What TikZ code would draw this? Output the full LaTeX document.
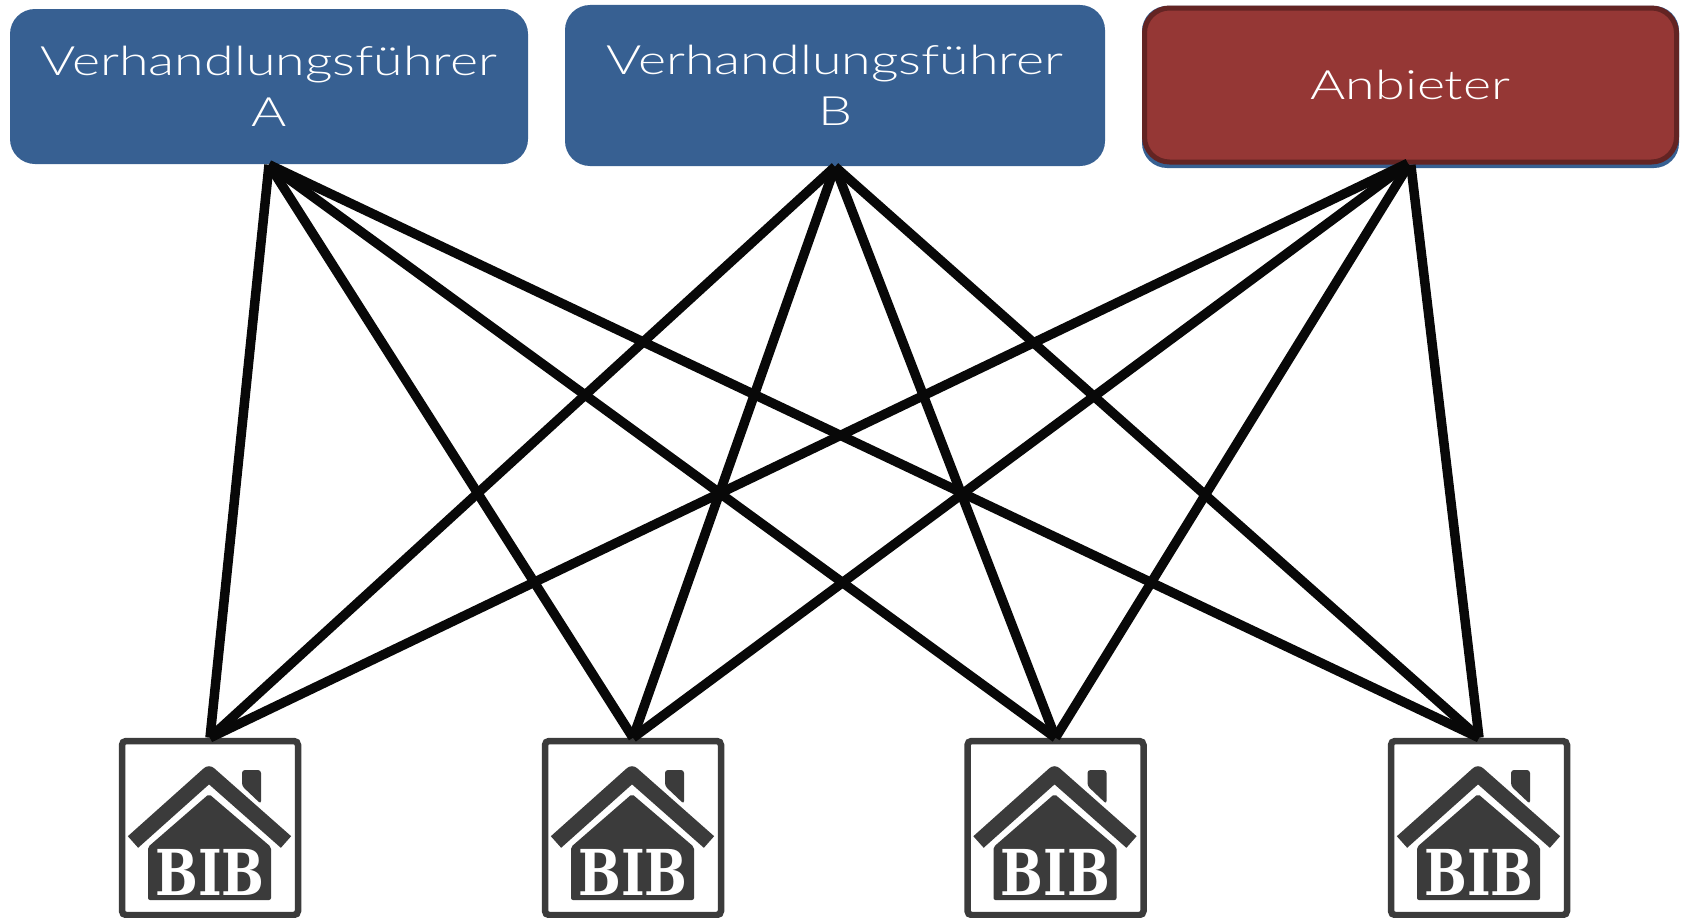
\documentclass[tikz,border=0pt]{standalone}
\usepackage{fontspec}
\setmainfont{Lato}[UprightFont=* Light,FakeStretch=1.33]
\newfontfamily\bibfont{DejaVu Serif}[UprightFont=* Bold,FakeStretch=0.8]
\usepackage{xcolor}
\definecolor{partyblue}{HTML}{376092}
\definecolor{partyred}{HTML}{953735}
\definecolor{partyredline}{HTML}{632423}
\definecolor{housegrey}{HTML}{3B3B3B}
\usetikzlibrary{positioning}
\tikzset{
    party/.style = {rounded corners=0.25cm,inner sep=0,text=white,align=center,
        font=\fontsize{11.5}{14.5}\selectfont},
    bluebox/.style = {party,fill=partyblue,minimum height=1.55cm},
    redbox/.style = {party,fill=partyred,draw=partyredline,line width=0.05cm,outer sep=0},
    link/.style = {line width=0.095cm,black!97},
    bibhouse/.pic = {
        \node [draw=housegrey,fill=white,line width=0.065cm,rounded corners=0.04cm,
            minimum width=1.76cm,minimum height=1.74cm,inner sep=0] (-frame) at (0,0) {};
        \fill [housegrey,rounded corners=0.03cm] (0.32,0.58) -- (0.51,0.58) -- (0.51,0.24) -- (0.32,0.42) -- cycle;
        \draw [housegrey,line width=0.155cm,line join=round] (-0.77,-0.14) -- (-0.01,0.54) -- (0.76,-0.14);
        \fill [housegrey,rounded corners=0.02cm] (-0.62,-0.19) -- (-0.01,0.34) -- (0.61,-0.19) -- (0.61,-0.72) -- (-0.62,-0.72) -- cycle;
        \node [text=white,inner sep=0,font=\bibfont\fontsize{18}{18}\selectfont] (-name) at (0,-0.44) {BIB};
    }
}
\begin{document}
\begin{tikzpicture}
    \useasboundingbox (0,0) rectangle (16.83,-9.18);

    \node [bluebox,minimum width=5.18cm] (A) at (2.69,-0.865) {Verhandlungsführer\\A};
    \node [bluebox,minimum width=5.40cm,minimum height=1.61cm] (B) at (8.35,-0.855) {Verhandlungsführer\\B};
    \node [party,fill=partyblue,minimum width=5.37cm,minimum height=1.62cm] (S) at (14.105,-0.87) {};
    \node [redbox,minimum width=5.32cm,minimum height=1.54cm] (C) at (14.105,-0.85) {Anbieter};

    \pic (H1) at (2.10,-8.28) {bibhouse};
    \pic (H2) at (6.33,-8.28) {bibhouse};
    \pic (H3) at (10.555,-8.28) {bibhouse};
    \pic (H4) at (14.79,-8.28) {bibhouse};

    \draw [link] (A.south) -- (H1-frame.north);
    \draw [link] (A.south) -- (H2-frame.north);
    \draw [link] (A.south) -- (H3-frame.north);
    \draw [link] (A.south) -- (H4-frame.north);

    \draw [link] (B.south) -- (H1-frame.north);
    \draw [link] (B.south) -- (H2-frame.north);
    \draw [link] (B.south) -- (H3-frame.north);
    \draw [link] (B.south) -- (H4-frame.north);

    \draw [link,shorten <=0.03cm] (C.south) -- (H1-frame.north);
    \draw [link,shorten <=0.03cm] (C.south) -- (H2-frame.north);
    \draw [link,shorten <=0.03cm] (C.south) -- (H3-frame.north);
    \draw [link,shorten <=0.03cm] (C.south) -- (H4-frame.north);
\end{tikzpicture}
\end{document}
